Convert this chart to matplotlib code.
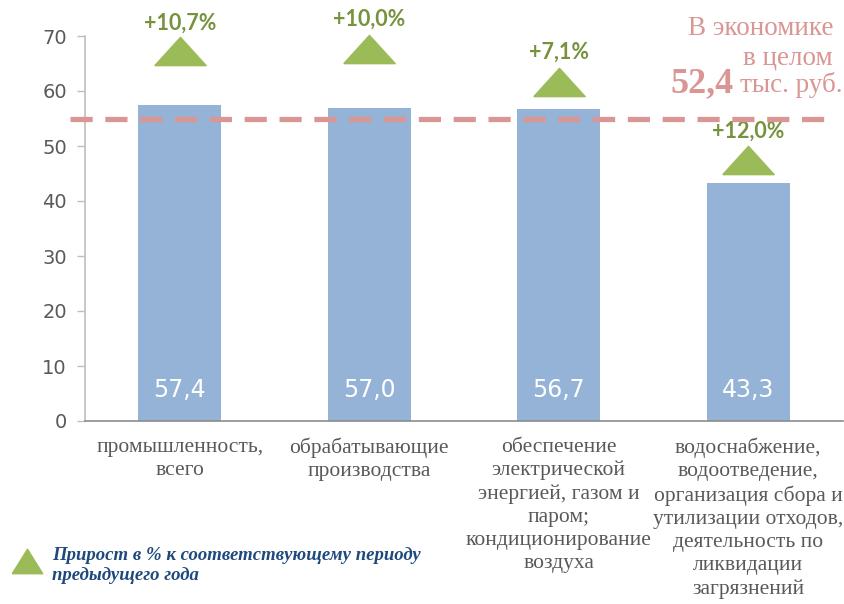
import matplotlib
matplotlib.use("Agg")
import matplotlib.pyplot as plt

# data
categories = ["промышленность,\nвсего",
              "обрабатывающие\nпроизводства",
              "обеспечение\nэлектрической\nэнергией, газом и\nпаром;\nкондиционирование\nвоздуха",
              "водоснабжение,\nводоотведение,\nорганизация сбора и\nутилизации отходов,\nдеятельность по\nликвидации\nзагрязнений"]
values = [57.4, 57.0, 56.7, 43.3]
value_labels = ["57,4", "57,0", "56,7", "43,3"]
growth_labels = ["+10,7%", "+10,0%", "+7,1%", "+12,0%"]
economy_level = 55.0  # dashed reference line as drawn
economy_text = "52,4"

# layout of the triangle markers (data y)
tri_y = [67.2, 67.7, 61.7, 47.4]
lab_y = [72.3, 73.0, 67.0, 52.7]

bar_color = "#95B3D7"
green = "#9BBB59"
green_text = "#76923C"
red = "#D99694"
grey_text = "#595959"

fig = plt.figure(figsize=(8.44, 6.04), dpi=100)
ax = fig.add_axes([85 / 844, 1 - 421 / 604, (843 - 85) / 844, (421 - 36) / 604])

x = list(range(len(categories)))
ax.bar(x, values, width=0.44, color=bar_color, zorder=2)
ax.set_xlim(-0.5, len(categories) - 0.5)
ax.set_ylim(0, 70)
ax.set_yticks(range(0, 71, 10))

ax.set_yticklabels([str(v) for v in range(0, 71, 10)], color=grey_text,
                   fontsize=14)
ax.tick_params(axis="y", length=6, width=1, color="#BFBFBF", pad=7)
ax.set_xticks(x)
ax.set_xticklabels(categories, fontsize=15.5, family="Liberation Serif",
                   color=grey_text, va="top", linespacing=1.29)
ax.tick_params(axis="x", length=0, pad=12)

for s in ["top", "right"]:
    ax.spines[s].set_visible(False)
ax.spines["left"].set_color("#BFBFBF")
ax.spines["left"].set_linewidth(1.2)
ax.spines["bottom"].set_color("#8C8C8C")
ax.spines["bottom"].set_linewidth(1.2)

# values inside the bars
for xi, lab in zip(x, value_labels):
    ax.text(xi, 5.6, lab, ha="center", va="center", color="white",
            fontsize=17, zorder=3)

# economy-wide dashed line
ax.plot([-0.58, 3.46], [economy_level, economy_level], color=red, lw=3.8,
        dashes=(4.2, 2.4), clip_on=False, zorder=4)

# growth triangles
tri = [(-1, -0.55), (1, -0.55), (0, 0.55), (-1, -0.55)]
for xi, ty, ly, g in zip(x, tri_y, lab_y, growth_labels):
    ax.plot(xi, ty, marker=tri, markersize=37, color=green, clip_on=False,
            linestyle="none", zorder=5)
    ax.text(xi, ly, g, ha="center", va="center", color=green_text,
            fontsize=15.5, fontweight="bold", family="Lato", clip_on=False)

# top-right annotation
serif = "Liberation Serif"
fig.text(833 / 844, 1 - 35 / 604, "В экономике", ha="right", va="baseline",
         color=red, fontsize=19.5, family=serif)
fig.text(833 / 844, 1 - 65 / 604, "в целом", ha="right", va="baseline",
         color=red, fontsize=19.5, family=serif)
fig.text(843 / 844, 1 - 92 / 604, "тыс. руб.", ha="right", va="baseline",
         color=red, fontsize=19.5, family=serif)
fig.text(734 / 844, 1 - 92 / 604, economy_text, ha="right", va="baseline",
         color=red, fontsize=26, family=serif, fontweight="bold")

# legend
leg_tri = [(-1, -0.8), (1, -0.8), (0, 0.8), (-1, -0.8)]
fig.lines.append(plt.Line2D([27 / 844], [1 - 561 / 604], marker=leg_tri,
                            markersize=22, color=green, linestyle="none",
                            transform=fig.transFigure))
fig.text(52 / 844, 1 - 580 / 604, "Прирост в % к соответствующему периоду\nпредыдущего года",
         ha="left", va="baseline", color="#1F497D", fontsize=13.5, family=serif,
         fontweight="bold", fontstyle="italic", linespacing=1.2)

fig.savefig("out.png", dpi=100)
